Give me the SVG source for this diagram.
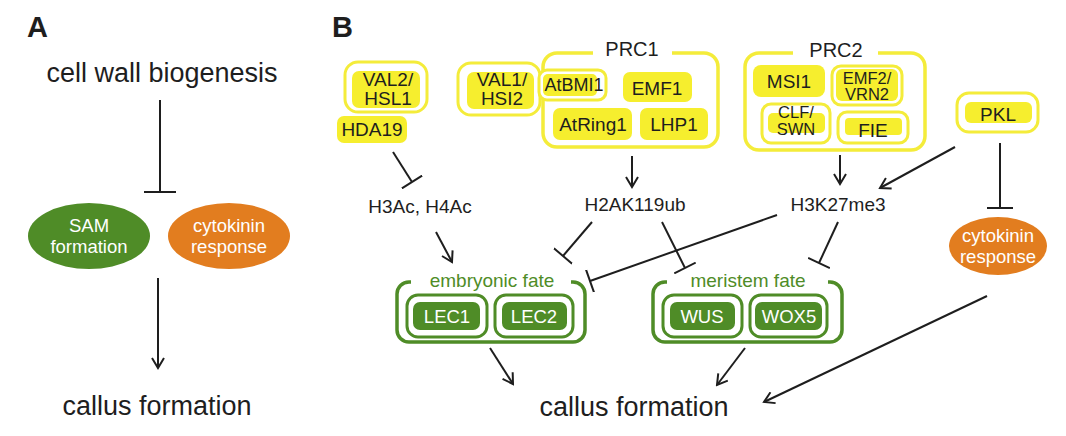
<svg xmlns="http://www.w3.org/2000/svg" width="1066" height="436" viewBox="0 0 1066 436">
<style>
  text { font-family: "Liberation Sans", Arial, sans-serif; fill: #1e1e1e; text-anchor: middle; }
  .lbl { font-size: 29px; font-weight: bold; text-anchor: start; }
  .big { font-size: 27px; }
  .mid { font-size: 19px; }
  .prc { font-size: 20px; }
  .box { font-size: 19px; }
  .bmi { font-size: 18px; }
  .tight { font-size: 16.5px; }
  .wt { fill: #ffffff; font-size: 18.5px; }
  .gt { fill: #4f8c27; font-size: 19px; }
  .yf { fill: #f6ee2e; }
  .yo { fill: #ffffff; stroke: #f4ec3a; stroke-width: 3; }
  .yc { fill: none; stroke: #f4ec3a; stroke-width: 3.5; }
  .gc { fill: none; stroke: #4f8c27; stroke-width: 3.5; }
  .go { fill: #ffffff; stroke: #4f8c27; stroke-width: 3; }
  .gf { fill: #4f8c27; }
  .ln { stroke: #1e1e1e; stroke-width: 2; fill: none; }
  .arr { marker-end: url(#arrow); }
  .inh { marker-end: url(#bar); }
</style>
<defs>
  <marker id="arrow" markerUnits="userSpaceOnUse" markerWidth="14" markerHeight="14" viewBox="0 0 14 14" refX="12" refY="7" orient="auto">
    <path d="M2,1 L12,7 L2,13" fill="none" stroke="#1e1e1e" stroke-width="2"/>
  </marker>
  <marker id="bar" markerUnits="userSpaceOnUse" markerWidth="4" markerHeight="24" viewBox="0 0 4 24" refX="2" refY="12" orient="auto">
    <path d="M2,0 V24" stroke="#1e1e1e" stroke-width="2"/>
  </marker>
</defs>
<rect width="1066" height="436" fill="#ffffff"/>

<!-- Panel A -->
<text class="lbl" x="27" y="37">A</text>
<g id="a-cellwall"><text class="big" x="162" y="82">cell wall biogenesis</text></g>
<g id="a-sam">
  <ellipse cx="89" cy="236" rx="61" ry="33" fill="#4f8c27"/>
  <text class="wt" x="89" y="232">SAM</text>
  <text class="wt" x="89" y="253">formation</text>
</g>
<g id="a-cyto">
  <ellipse cx="229" cy="236" rx="61" ry="33" fill="#e27d1f"/>
  <text class="wt" x="229" y="232">cytokinin</text>
  <text class="wt" x="229" y="253">response</text>
</g>
<g id="a-callus"><text class="big" x="157" y="415">callus formation</text></g>

<!-- Panel B -->
<text class="lbl" x="332" y="37">B</text>

<g id="val2">
  <rect class="yo" x="345" y="62" width="82" height="50" rx="13"/>
  <rect class="yf" x="352" y="71" width="68" height="37" rx="7"/>
  <text class="box" x="388" y="86">VAL2/</text>
  <text class="box" x="388" y="105">HSL1</text>
</g>
<g id="hda19">
  <rect class="yf" x="337" y="116" width="70" height="27" rx="7"/>
  <text class="box" x="372" y="136">HDA19</text>
</g>
<g id="val1">
  <rect class="yo" x="458" y="63" width="82" height="52" rx="13"/>
  <rect class="yf" x="467" y="72" width="67" height="37" rx="7"/>
  <text class="box" x="502" y="86">VAL1/</text>
  <text class="box" x="502" y="105">HSI2</text>
</g>

<g id="prc1">
  <path class="yc" d="M593,53 H557 A14,14 0 0 0 543,67 V133 A14,14 0 0 0 557,147 H704 A14,14 0 0 0 718,133 V67 A14,14 0 0 0 704,53 H672"/>
  <text class="prc" x="632" y="56">PRC1</text>
  <rect class="yo" x="539" y="70" width="67" height="30" rx="8"/>
  <rect class="yf" x="543" y="74" width="54" height="22" rx="5"/>
  <text class="bmi" x="574" y="91">AtBMI1</text>
  <rect class="yf" x="623" y="72" width="69" height="30" rx="7"/>
  <text class="box" x="657" y="95">EMF1</text>
  <rect class="yf" x="553" y="108" width="79" height="32" rx="7"/>
  <text class="box" x="593" y="131">AtRing1</text>
  <rect class="yf" x="640" y="108" width="68" height="32" rx="7"/>
  <text class="box" x="674" y="131">LHP1</text>
</g>

<g id="prc2">
  <path class="yc" d="M793,53 H759 A14,14 0 0 0 745,67 V136 A14,14 0 0 0 759,150 H911 A14,14 0 0 0 925,136 V67 A14,14 0 0 0 911,53 H878"/>
  <text class="prc" x="836" y="57">PRC2</text>
  <rect class="yf" x="753" y="65" width="72" height="32" rx="8"/>
  <text class="box" x="789" y="88">MSI1</text>
  <rect class="yo" x="832" y="66" width="70" height="39" rx="9"/>
  <rect class="yf" x="836" y="69" width="62" height="32" rx="6"/>
  <text class="tight" x="867" y="84">EMF2/</text>
  <text class="tight" x="867" y="100">VRN2</text>
  <rect class="yo" x="762" y="104" width="68" height="39" rx="9"/>
  <rect class="yf" x="768" y="113" width="57" height="20" rx="5"/>
  <text class="tight" x="796" y="118">CLF/</text>
  <text class="tight" x="796" y="135">SWN</text>
  <rect class="yo" x="838" y="112" width="70" height="31" rx="9"/>
  <rect class="yf" x="845" y="118" width="57" height="17" rx="4"/>
  <text class="box" x="873" y="137">FIE</text>
</g>

<g id="pkl">
  <rect class="yo" x="957" y="93" width="81" height="39" rx="12"/>
  <rect class="yf" x="965" y="102" width="67" height="21" rx="6"/>
  <text class="box" x="998" y="121">PKL</text>
</g>

<g id="h3ac"><text class="mid" x="420" y="213">H3Ac, H4Ac</text></g>
<g id="h2ak"><text class="mid" x="635" y="211">H2AK119ub</text></g>
<g id="h3k27"><text class="mid" x="838" y="211">H3K27me3</text></g>

<g id="cyto-b">
  <ellipse cx="998" cy="246" rx="49" ry="29" fill="#e27d1f"/>
  <text class="wt" x="998" y="242">cytokinin</text>
  <text class="wt" x="998" y="263">response</text>
</g>

<g id="embryonic">
  <path class="gc" d="M411,282 H409 A12,12 0 0 0 397,294 V330 A12,12 0 0 0 409,342 H573 A12,12 0 0 0 585,330 V294 A12,12 0 0 0 573,282 H571"/>
  <text class="gt" x="492" y="287">embryonic fate</text>
  <rect class="go" x="407" y="295" width="80" height="42" rx="11"/>
  <rect class="gf" x="413" y="302" width="67" height="28" rx="7"/>
  <text class="wt" x="447" y="323">LEC1</text>
  <rect class="go" x="495" y="295" width="78" height="42" rx="11"/>
  <rect class="gf" x="502" y="302" width="65" height="28" rx="7"/>
  <text class="wt" x="534" y="323">LEC2</text>
</g>

<g id="meristem">
  <path class="gc" d="M667,282 H665 A12,12 0 0 0 653,294 V330 A12,12 0 0 0 665,342 H830 A12,12 0 0 0 842,330 V294 A12,12 0 0 0 830,282 H828"/>
  <text class="gt" x="748" y="287">meristem fate</text>
  <rect class="go" x="663" y="295" width="79" height="42" rx="11"/>
  <rect class="gf" x="670" y="302" width="65" height="28" rx="7"/>
  <text class="wt" x="702" y="323">WUS</text>
  <rect class="go" x="750" y="295" width="77" height="42" rx="11"/>
  <rect class="gf" x="755" y="302" width="67" height="28" rx="7"/>
  <text class="wt" x="789" y="323">WOX5</text>
</g>

<g id="b-callus"><text class="big" x="634" y="416">callus formation</text></g>

<g id="connectors">
  <!-- Panel A -->
  <line class="ln" x1="160" y1="100" x2="160" y2="192"/>
  <line class="ln" x1="144" y1="192" x2="176" y2="192"/>
  <line class="ln arr" x1="158" y1="278" x2="158" y2="368"/>
  <!-- Panel B -->
  <line class="ln inh" x1="393" y1="152" x2="412" y2="182"/>
  <line class="ln arr" x1="436" y1="232" x2="452" y2="262"/>
  <line class="ln arr" x1="632" y1="156" x2="632" y2="187"/>
  <line class="ln arr" x1="840" y1="155" x2="840" y2="184"/>
  <line class="ln arr" x1="955" y1="147" x2="880" y2="188"/>
  <line class="ln inh" x1="592" y1="222" x2="563" y2="256"/>
  <line class="ln inh" x1="662" y1="222" x2="685" y2="268"/>
  <line class="ln inh" x1="777" y1="215" x2="590" y2="281"/>
  <line class="ln inh" x1="838" y1="222" x2="819" y2="263"/>
  <line class="ln" x1="1000" y1="143" x2="1000" y2="208"/>
  <line class="ln" x1="987" y1="208" x2="1013" y2="208"/>
  <line class="ln arr" x1="987" y1="296" x2="764" y2="402"/>
  <line class="ln arr" x1="490" y1="348" x2="513" y2="384"/>
  <line class="ln arr" x1="745" y1="348" x2="717" y2="385"/>
</g>
</svg>
